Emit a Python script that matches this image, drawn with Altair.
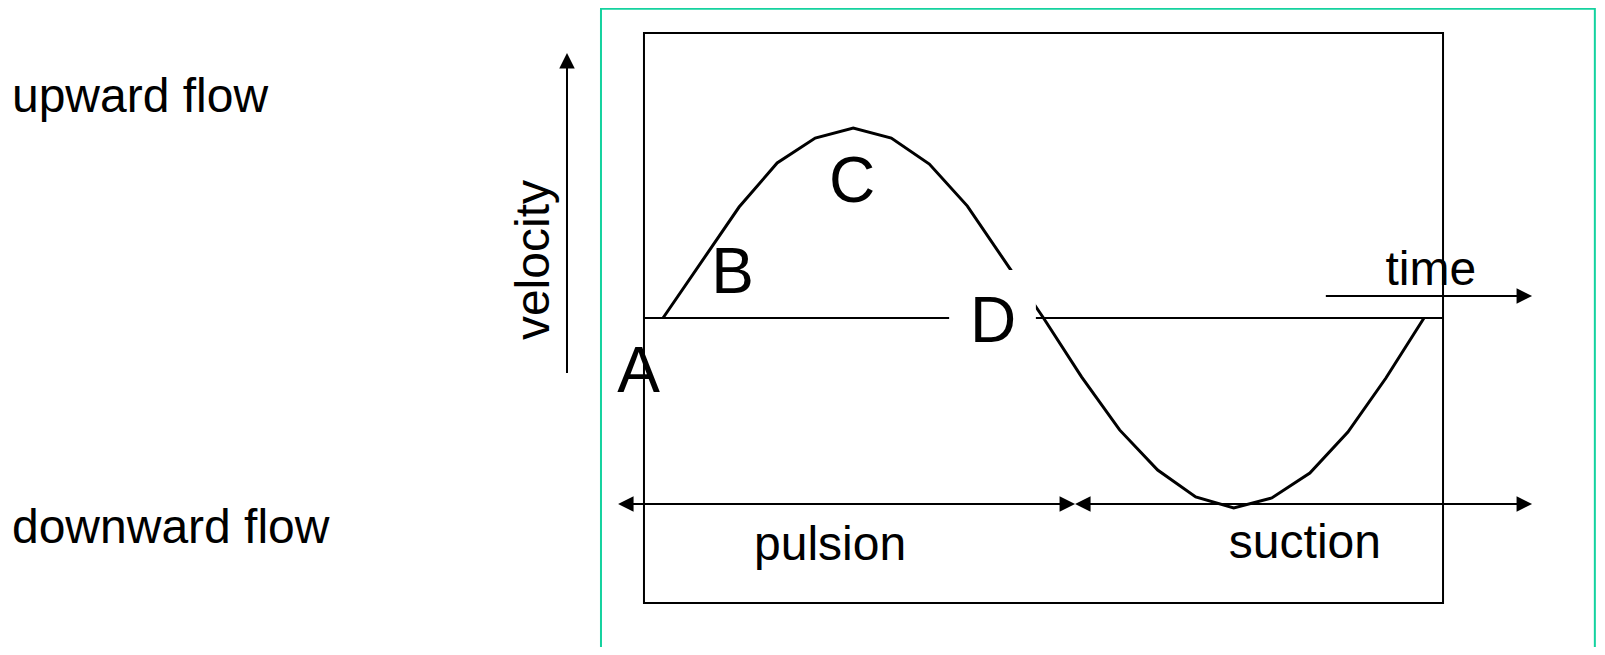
import altair as alt
import pandas as pd

# ---------------- data ----------------
# velocity curve: time (1 unit = 1/20 of a period) and velocity (peak = 1)
curve_t = [0, 2, 3, 4, 5, 6, 7, 8, 10, 11, 12, 13, 14, 15, 16, 17, 18, 19, 20]
curve_v = [0.0, 0.584, 0.816, 0.947, 1.0, 0.947, 0.81, 0.589, 0.0,
           -0.31, -0.589, -0.80, -0.942, -1.0, -0.947, -0.816, -0.60, -0.316, 0.0]

# point labels A-D
point_labels = ["A", "B", "C", "D"]
point_t = [-0.644, 1.827, 4.967, 8.673]
point_v = [-0.389, 0.132, 0.613, -0.126]

# phase labels
phase_labels = ["pulsion", "suction", "time"]
phase_t = [4.39, 16.87, 20.18]
phase_v = [-1.274, -1.263, 0.174]

# side labels
side_labels = ["upward flow", "downward flow"]
side_t = [-17.11, -17.11]
side_v = [1.084, -1.184]

axis_label = ["velocity"]
axis_label_t = [-2.996]
axis_label_v = [0.305]

# frame, zero line, arrows
box_t = [-0.5, 20.5]
box_v = [1.5, -1.5]
zero_t = [-0.5, 20.5]
outer_t = [-1.63, 24.49]
outer_v = [1.627, -2.5]
d_mask_t = [7.52, 9.80]
d_mask_v = [0.253, -0.195]

vel_arrow_t = -2.523
vel_arrow_v = [-0.289, 1.395]
time_arrow_t = [17.42, 22.84]
time_arrow_v = 0.116
pulsion_t = [-1.18, 10.83]
suction_t = [10.83, 22.84]
phase_arrow_v = -0.979

# ---------------- layout ----------------
W, H = 1589, 639
PX_T = 38.05      # pixels per time unit
PX_V = 190.0      # pixels per velocity unit
T0_PX = 655       # view x of t = 0
V0_PX = 310       # view y of v = 0

xs = alt.Scale(domain=[-T0_PX / PX_T, (W - T0_PX) / PX_T], nice=False, zero=False)
ys = alt.Scale(domain=[-(H - V0_PX) / PX_V, V0_PX / PX_V], nice=False, zero=False)

FONT = "Liberation Sans"
HEAD = 15 / PX_T  # arrow head length in time units

def X(f="t"):
    return alt.X(f"{f}:Q", scale=xs, axis=None)

def Y(f="v"):
    return alt.Y(f"{f}:Q", scale=ys, axis=None)

# outer green frame
outer_df = pd.DataFrame({"t": [outer_t[0]], "t2": [outer_t[1]],
                         "v": [outer_v[0]], "v2": [outer_v[1]]})
outer = alt.Chart(outer_df).mark_rect(fillOpacity=0, stroke="#14d29f", strokeWidth=2).encode(
    x=X(), x2="t2:Q", y=Y(), y2="v2:Q")

box_df = pd.DataFrame({"t": [box_t[0]], "t2": [box_t[1]], "v": [box_v[0]], "v2": [box_v[1]]})
box = alt.Chart(box_df).mark_rect(fillOpacity=0, stroke="black", strokeWidth=2).encode(
    x=X(), x2="t2:Q", y=Y(), y2="v2:Q")

rules_df = pd.DataFrame({
    "t":  [zero_t[0], vel_arrow_t, time_arrow_t[0], pulsion_t[0] + HEAD / 2, suction_t[0] + HEAD / 2],
    "t2": [zero_t[1], vel_arrow_t, time_arrow_t[1] - HEAD / 2, pulsion_t[1] - HEAD / 2, suction_t[1] - HEAD / 2],
    "v":  [0.0, vel_arrow_v[0], time_arrow_v, phase_arrow_v, phase_arrow_v],
    "v2": [0.0, vel_arrow_v[1] - 8 / PX_V, time_arrow_v, phase_arrow_v, phase_arrow_v],
})
rules = alt.Chart(rules_df).mark_rule(color="black", strokeWidth=2).encode(
    x=X(), x2="t2:Q", y=Y(), y2="v2:Q")

RIGHT = "M0,0 L-1,-0.5 L-1,0.5 Z"
LEFT = "M0,0 L1,-0.5 L1,0.5 Z"
UP = "M0,0 L0.5,1 L-0.5,1 Z"
heads_df = pd.DataFrame({
    "t": [vel_arrow_t, time_arrow_t[1], pulsion_t[0], pulsion_t[1], suction_t[0], suction_t[1]],
    "v": [vel_arrow_v[1], time_arrow_v, phase_arrow_v, phase_arrow_v, phase_arrow_v, phase_arrow_v],
    "shape": [UP, RIGHT, LEFT, RIGHT, LEFT, RIGHT],
})
heads = alt.Chart(heads_df).mark_point(filled=True, color="black", opacity=1, size=960,
                                        strokeWidth=0).encode(
    x=X(), y=Y(), shape=alt.Shape("shape:N", scale=None, legend=None))

curve_df = pd.DataFrame({"t": curve_t, "v": curve_v})
curve = alt.Chart(curve_df).mark_line(color="black", strokeWidth=3, strokeJoin="miter").encode(
    x=X(), y=Y(), order="t:Q")

mask_df = pd.DataFrame({"t": [d_mask_t[0]], "t2": [d_mask_t[1]],
                        "v": [d_mask_v[0]], "v2": [d_mask_v[1]]})
mask = alt.Chart(mask_df).mark_rect(fill="white", strokeWidth=0).encode(
    x=X(), x2="t2:Q", y=Y(), y2="v2:Q")

pts_df = pd.DataFrame({"label": point_labels, "t": point_t, "v": point_v})
pts = alt.Chart(pts_df).mark_text(font=FONT, fontSize=64, color="black", align="center",
                                  baseline="alphabetic").encode(x=X(), y=Y(), text="label:N")

phase_df = pd.DataFrame({"label": phase_labels, "t": phase_t, "v": phase_v})
phase = alt.Chart(phase_df).mark_text(font=FONT, fontSize=48, color="black", align="center",
                                      baseline="alphabetic").encode(x=X(), y=Y(), text="label:N")

side_df = pd.DataFrame({"label": side_labels, "t": side_t, "v": side_v})
side = alt.Chart(side_df).mark_text(font=FONT, fontSize=48, color="black", align="left",
                                    baseline="alphabetic").encode(x=X(), y=Y(), text="label:N")

vel_df = pd.DataFrame({"label": axis_label, "t": axis_label_t, "v": axis_label_v})
vel = alt.Chart(vel_df).mark_text(font=FONT, fontSize=48, color="black", align="center",
                                  baseline="alphabetic", angle=270).encode(
    x=X(), y=Y(), text="label:N")

chart = alt.layer(outer, box, rules, curve, mask, heads, pts, phase, side, vel).properties(
    width=W, height=H, padding=0, autosize=alt.AutoSizeParams(type="none"),
    background="white",
).configure_view(strokeWidth=0)

chart.save("out.html", embed_options={"renderer": "svg", "actions": False})
